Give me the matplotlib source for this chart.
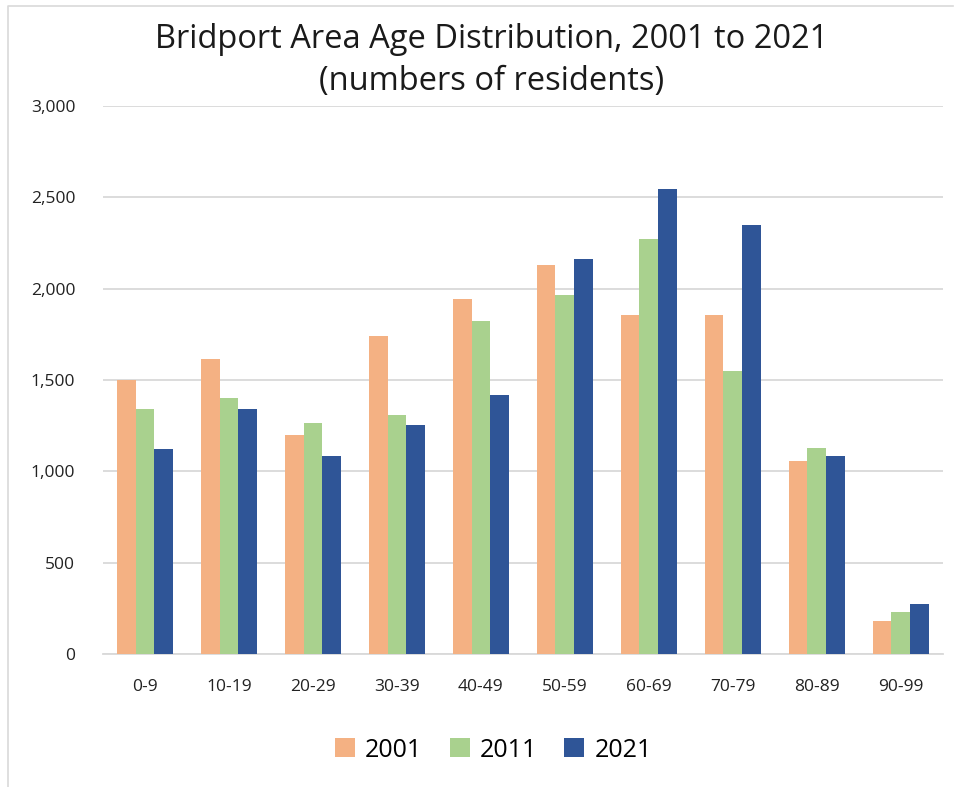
import numpy as np
import matplotlib.pyplot as plt
from matplotlib.ticker import FuncFormatter
from matplotlib.lines import Line2D

plt.rcParams['font.family'] = ['Open Sans', 'DejaVu Sans']

age_groups = ['0-9', '10-19', '20-29', '30-39', '40-49', '50-59', '60-69', '70-79', '80-89', '90-99']
years = ['2001', '2011', '2021']
vals_2001 = [1500, 1615, 1200, 1738, 1945, 2127, 1853, 1853, 1055, 180]
vals_2011 = [1340, 1404, 1265, 1310, 1825, 1963, 2269, 1547, 1130, 233]
vals_2021 = [1122, 1344, 1087, 1255, 1420, 2160, 2542, 2345, 1086, 277]
colors = ['#F4B183', '#A9D18E', '#2F5597']

fig = plt.figure(figsize=(9.58, 7.87), dpi=100)
ax = fig.add_axes([0.1075, 0.1686, 0.8765, 0.6971])

x = np.arange(len(age_groups))
w = 0.222
for i, (vals, c, lab) in enumerate(zip([vals_2001, vals_2011, vals_2021], colors, years)):
    ax.bar(x + (i - 1) * w, vals, width=w, color=c, label=lab, zorder=3)

ax.set_xlim(-0.5, len(age_groups) - 0.5)
ax.set_ylim(0, 3000)
ax.set_yticks(np.arange(0, 3001, 500))
ax.yaxis.set_major_formatter(FuncFormatter(lambda v, p: '{:,.0f}'.format(v)))
ax.set_xticks(x)
ax.set_xticklabels(age_groups)
ax.grid(axis='y', color='#D9D9D9', linewidth=1.3, zorder=0)
for s in ['top', 'right', 'left']:
    ax.spines[s].set_visible(False)
ax.spines['bottom'].set_color('#D9D9D9')
ax.spines['bottom'].set_linewidth(1.3)
ax.tick_params(axis='both', length=0, labelsize=12.5, colors='#222222')
ax.tick_params(axis='y', pad=20)
ax.tick_params(axis='x', pad=18)

fig.text(0.513, 0.950, 'Bridport Area Age Distribution, 2001 to 2021',
         ha='center', va='center', fontsize=23.5, color='#1a1a1a')
fig.text(0.513, 0.896, '(numbers of residents)',
         ha='center', va='center', fontsize=23.5, color='#1a1a1a')

fig.legend(loc='center', bbox_to_anchor=(0.515, 0.047), ncol=3, frameon=False,
           fontsize=18, handlelength=0.8, handleheight=0.8, columnspacing=1.1,
           handletextpad=0.4)

# light frame on top and left edges like the source screenshot
fig.lines.append(Line2D([0.008, 0.008, 0.995], [0.0, 0.992, 0.992], transform=fig.transFigure,
                        color='#D9D9D9', linewidth=1.2))

plt.savefig('out.png', dpi=100)
